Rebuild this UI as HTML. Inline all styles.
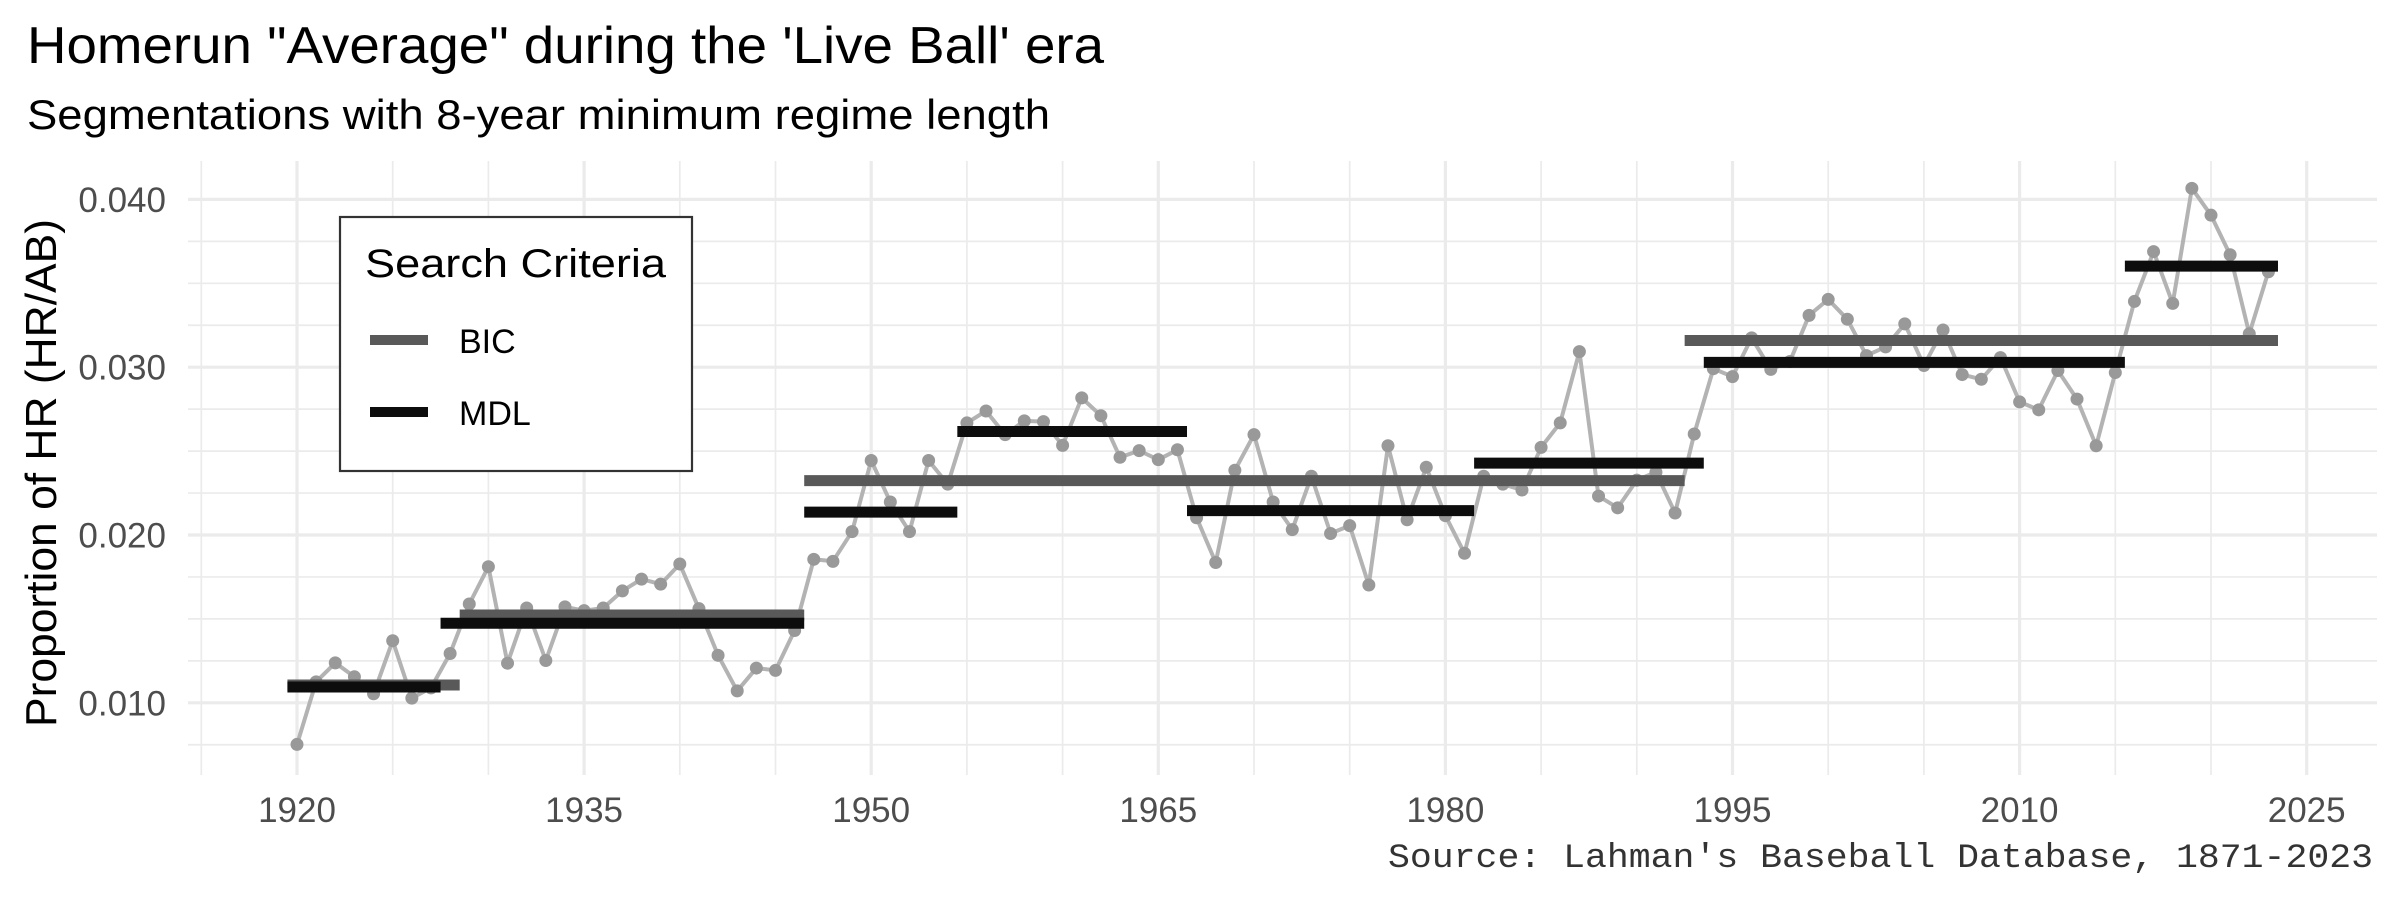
<!DOCTYPE html>
<html><head><meta charset="utf-8">
<style>
html,body{margin:0;padding:0;background:#fff;}
svg{display:block;}
text{font-family:"Liberation Sans",sans-serif;}
</style></head>
<body>
<svg id="chart" width="2400" height="900" viewBox="0 0 2400 900" xmlns="http://www.w3.org/2000/svg">
<rect x="0" y="0" width="2400" height="900" fill="#fff"/>
<g id="grid"></g>
<g id="series"></g>
<g id="segs"></g>
<g id="axes"></g>
<text x="27" y="63" font-size="52" fill="#000" textLength="1077" lengthAdjust="spacingAndGlyphs">Homerun "Average" during the 'Live Ball' era</text>
<text x="27" y="129" font-size="42" fill="#000" textLength="1023" lengthAdjust="spacingAndGlyphs">Segmentations with 8-year minimum regime length</text>
<text transform="translate(56,473) rotate(-90)" text-anchor="middle" font-size="44" fill="#000" textLength="508" lengthAdjust="spacingAndGlyphs">Proportion of HR (HR/AB)</text>
<text x="2373" y="867" text-anchor="end" font-size="34" fill="#333" style="font-family:'Liberation Mono',monospace" textLength="985" lengthAdjust="spacingAndGlyphs">Source: Lahman's Baseball Database, 1871-2023</text>
<g>
<rect x="340" y="217" width="352" height="254" fill="#fff" stroke="#333" stroke-width="2.2"/>
<text x="365" y="277" font-size="40" fill="#000" textLength="301" lengthAdjust="spacingAndGlyphs">Search Criteria</text>
<line x1="370" x2="428" y1="340" y2="340" stroke="#595959" stroke-width="10"/>
<text x="459" y="353" font-size="34" fill="#000">BIC</text>
<line x1="370" x2="428" y1="412" y2="412" stroke="#0d0d0d" stroke-width="10"/>
<text x="459" y="425" font-size="34" fill="#000">MDL</text>
</g>
</svg>
<script>
const years = [];
for (let y = 1920; y <= 2023; y++) years.push(y);
const hrRate = [
0.00752,0.01125,0.01238,0.01155,0.01054,0.01370,0.01028,0.01089,0.01294,0.01589,
0.01811,0.01236,0.01565,0.01252,0.01572,0.01549,0.01565,0.01667,0.01737,0.01707,
0.01827,0.01561,0.01283,0.01071,0.01207,0.01193,0.01431,0.01855,0.01843,0.02020,
0.02444,0.02197,0.02020,0.02444,0.02303,0.02668,0.02739,0.02598,0.02680,0.02676,
0.02534,0.02817,0.02711,0.02463,0.02503,0.02449,0.02508,0.02103,0.01836,0.02386,
0.02598,0.02197,0.02032,0.02350,0.02009,0.02056,0.01702,0.02532,0.02091,0.02404,
0.02115,0.01891,0.02350,0.02303,0.02268,0.02522,0.02668,0.03093,0.02232,0.02162,
0.02327,0.02374,0.02131,0.02602,0.02991,0.02944,0.03175,0.02987,0.03034,0.03309,
0.03404,0.03286,0.03069,0.03121,0.03258,0.03010,0.03222,0.02956,0.02928,0.03057,
0.02793,0.02746,0.02980,0.02810,0.02532,0.02968,0.03392,0.03689,0.03380,0.04066,
0.03906,0.03670,0.03199,0.03569];
const bicStart = [1919.5, 1928.5, 1946.5, 1992.5];
const bicEnd   = [1928.5, 1946.5, 1992.5, 2023.5];
const bicMean  = [0.01106, 0.01523, 0.02324, 0.03159];
const mdlStart = [1919.5, 1927.5, 1946.5, 1954.5, 1966.5, 1981.5, 1993.5, 2015.5];
const mdlEnd   = [1927.5, 1946.5, 1954.5, 1966.5, 1981.5, 1993.5, 2015.5, 2023.5];
const mdlMean  = [0.01094, 0.01474, 0.02136, 0.02617, 0.02145, 0.02428, 0.03029, 0.03602];
const xTicks = [1920, 1935, 1950, 1965, 1980, 1995, 2010, 2025];
const yTicks = [0.010, 0.020, 0.030, 0.040];
const yTickLabels = ["0.010", "0.020", "0.030", "0.040"];

const NS = "http://www.w3.org/2000/svg";
const PL = 188, PR = 2377, PT = 161, PB = 775;
function xs(yr){ return 297 + (yr - 1920) * 19.14; }
function ys(v){ return 702.8 - (v - 0.010) * 16780; }
function mk(tag, attrs, parent){
  const e = document.createElementNS(NS, tag);
  for (const k in attrs) e.setAttribute(k, attrs[k]);
  parent.appendChild(e);
  return e;
}
const grid = document.getElementById('grid');
// horizontal gridlines
for (let i = 3; i <= 16; i++) {
  const v = i * 0.0025;
  const y = ys(v);
  if (y < PT || y > PB) continue;
  const major = (i % 4 === 0);
  const l = mk('line', {x1: PL, x2: PR, y1: y, y2: y, stroke: '#ebebeb', 'stroke-width': major ? 3.2 : 1.7}, grid);
  
  
}
// vertical gridlines
for (let yr = 1915; yr <= 2025; yr += 5) {
  const x = xs(yr);
  const major = ((yr - 1920) % 15 === 0);
  const l = mk('line', {x1: x, x2: x, y1: PT, y2: PB, stroke: '#ebebeb', 'stroke-width': major ? 3.2 : 1.7}, grid);
  
  
}
const axes = document.getElementById('axes');
xTicks.forEach((t) => {
  const tx = mk('text', {x: xs(t), y: 822, 'text-anchor': 'middle', 'font-size': 35, fill: '#4d4d4d'}, axes);
  tx.textContent = String(t);
  
  
});
yTicks.forEach((t, i) => {
  const tx = mk('text', {x: 166, y: ys(t) + 12.5, 'text-anchor': 'end', 'font-size': 35, fill: '#4d4d4d'}, axes);
  tx.textContent = yTickLabels[i];
  
  
});
// data line + points
const series = document.getElementById('series');
const pts = years.map((yr, i) => xs(yr).toFixed(1) + ',' + ys(hrRate[i]).toFixed(1)).join(' ');
const pl = mk('polyline', {points: pts, fill: 'none', stroke: '#b3b3b3', 'stroke-width': 4, 'stroke-linejoin': 'round'}, series);


years.forEach((yr, i) => {
  const c = mk('circle', {cx: xs(yr), cy: ys(hrRate[i]), r: 6.5, fill: '#999999'}, series);
  
  
});
// segments
const segs = document.getElementById('segs');
bicMean.forEach((m, i) => {
  const l = mk('line', {x1: xs(bicStart[i]), x2: xs(bicEnd[i]), y1: ys(m), y2: ys(m), stroke: '#595959', 'stroke-width': 11}, segs);
  
  
});
mdlMean.forEach((m, i) => {
  const l = mk('line', {x1: xs(mdlStart[i]), x2: xs(mdlEnd[i]), y1: ys(m), y2: ys(m), stroke: '#0d0d0d', 'stroke-width': 11}, segs);
  
  
});
</script>
</body></html>
